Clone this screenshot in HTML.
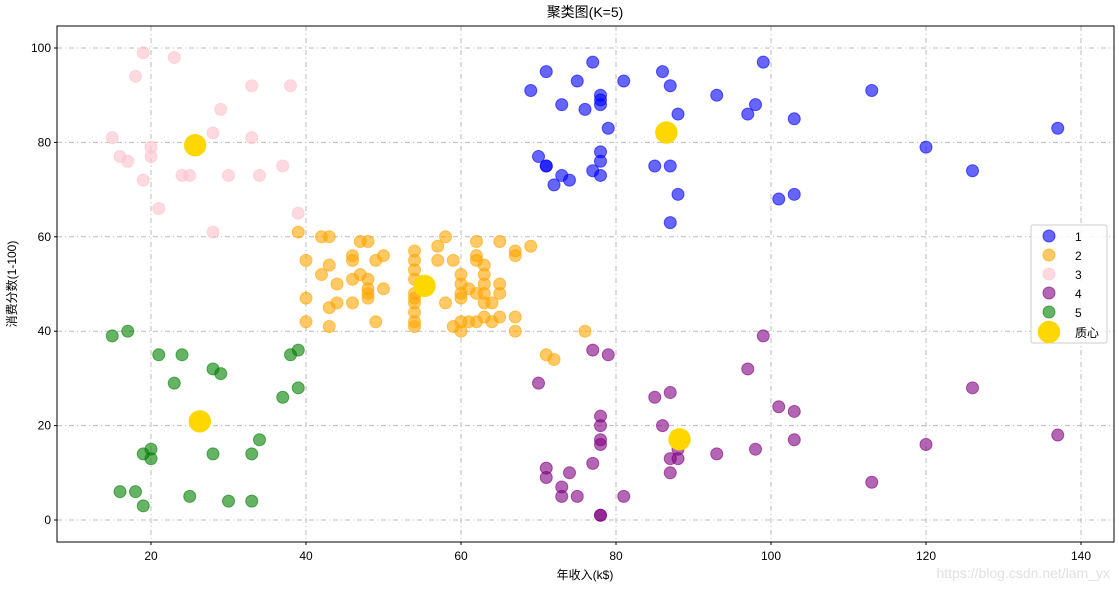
<!DOCTYPE html>
<html><head><meta charset="utf-8"><style>
body{margin:0;background:#fff;}
svg text{font-family:"Liberation Sans","Noto Sans CJK SC",sans-serif;}
</style></head><body>
<svg id="s" width="1119" height="587" xmlns="http://www.w3.org/2000/svg">
<rect width="1119" height="587" fill="#fff"/>
<g id="grid" stroke="#bbbbbb" stroke-width="1" stroke-dasharray="5,3,1,3"></g>
<g id="pts"></g>
<rect x="57" y="26" width="1057" height="516" fill="none" stroke="#000" stroke-width="1"/>
<g id="ticks" font-size="12" fill="#000"></g>
<text x="585" y="17" font-size="14" text-anchor="middle">聚类图(K=5)</text>
<text x="585" y="579" font-size="12" text-anchor="middle">年收入(k$)</text>
<text transform="translate(16,284) rotate(-90)" font-size="12" text-anchor="middle">消费分数(1-100)</text>
<g id="leg"></g>
<text x="1110" y="578" font-size="14" text-anchor="end" fill="#e0e0e0">https://blog.csdn.net/lam_yx</text>
</svg>
<script>
const NS="http://www.w3.org/2000/svg";
const X=x=>151+(x-20)*7.75, Y=y=>520-y*4.72;
function el(p,t,a){const e=document.createElementNS(NS,t);for(const k in a)e.setAttribute(k,a[k]);p.appendChild(e);return e;}
const g=document.getElementById('grid'),tk=document.getElementById('ticks');
for(let x=20;x<=140;x+=20){el(g,'line',{x1:X(x),x2:X(x),y1:26,y2:542});el(tk,'line',{x1:X(x),x2:X(x),y1:542,y2:545,stroke:'#000'});const t=el(tk,'text',{x:X(x),y:560,'text-anchor':'middle'});t.textContent=x;}
for(let y=0;y<=100;y+=20){el(g,'line',{y1:Y(y),y2:Y(y),x1:57,x2:1114});el(tk,'line',{y1:Y(y),y2:Y(y),x1:54,x2:57,stroke:'#000'});const t=el(tk,'text',{x:51,y:Y(y)+4,'text-anchor':'end'});t.textContent=y;}
const C={
blue:[[69,91],[70,77],[71,95],[71,75],[71,75],[72,71],[73,88],[73,73],[74,72],[75,93],[76,87],[77,97],[77,74],[78,90],[78,88],[78,89],[78,78],[78,76],[78,73],[79,83],[81,93],[85,75],[86,95],[87,63],[87,75],[87,92],[88,86],[88,69],[93,90],[97,86],[98,88],[99,97],[101,68],[103,85],[103,69],[113,91],[120,79],[126,74],[137,83]],
orange:[[39,61],[42,60],[43,60],[47,59],[48,59],[40,55],[42,52],[43,54],[46,56],[46,55],[47,52],[44,50],[46,51],[48,51],[48,49],[48,48],[48,47],[49,55],[50,56],[50,49],[40,47],[40,42],[43,45],[44,46],[43,41],[46,46],[49,42],[54,57],[54,55],[54,53],[54,51],[54,48],[54,47],[54,46],[54,44],[54,42],[54,41],[57,58],[58,60],[57,55],[59,55],[58,46],[59,41],[60,52],[60,50],[60,48],[60,47],[60,42],[60,40],[61,49],[62,59],[62,56],[62,55],[62,48],[62,42],[63,54],[63,52],[63,50],[63,48],[63,46],[64,46],[64,42],[65,59],[65,50],[65,48],[65,43],[67,57],[67,56],[67,43],[67,40],[69,58],[61,42],[63,43],[72,34],[71,35],[76,40]],
pink:[[15,81],[16,77],[17,76],[18,94],[19,72],[19,99],[20,79],[20,77],[21,66],[23,98],[24,73],[25,73],[28,82],[28,61],[29,87],[30,73],[33,92],[33,81],[34,73],[37,75],[38,92],[39,65]],
purple:[[70,29],[71,11],[71,9],[73,5],[73,7],[74,10],[75,5],[77,12],[77,36],[78,22],[78,17],[78,20],[78,16],[78,1],[78,1],[79,35],[81,5],[85,26],[86,20],[87,27],[87,13],[87,10],[88,13],[88,15],[93,14],[97,32],[98,15],[99,39],[101,24],[103,17],[103,23],[113,8],[120,16],[126,28],[137,18]],
green:[[15,39],[16,6],[17,40],[18,6],[19,3],[19,14],[20,15],[20,13],[21,35],[23,29],[24,35],[25,5],[28,14],[28,32],[29,31],[30,4],[33,4],[33,14],[34,17],[37,26],[38,35],[39,36],[39,28]]};
const p=document.getElementById('pts');
for(const c in C)for(const [x,y] of C[c])el(p,'circle',{cx:X(x),cy:Y(y),r:6,fill:c,'fill-opacity':0.6,stroke:c,'stroke-opacity':0.6});
for(const [x,y] of [[86.5,82.1],[55.3,49.6],[25.7,79.4],[88.2,17.1],[26.3,20.9]])el(p,'circle',{cx:X(x),cy:Y(y),r:11.2,fill:'gold'});
const L=document.getElementById('leg');
el(L,'rect',{x:1031,y:225,width:76,height:118,fill:'#fff','fill-opacity':0.85,stroke:'#ccc',rx:2});
const lc=['blue','orange','pink','purple','green'];
lc.forEach((c,i)=>{const cy=236+i*19;el(L,'circle',{cx:1049,cy:cy,r:6,fill:c,'fill-opacity':0.6,stroke:c,'stroke-opacity':0.6});const t=el(L,'text',{x:1075,y:cy+5,'font-size':12});t.textContent=i+1;});
el(L,'circle',{cx:1049,cy:332,r:11.2,fill:'gold'});
const t=el(L,'text',{x:1075,y:337,'font-size':12});t.textContent='质心';
</script>
</body></html>
